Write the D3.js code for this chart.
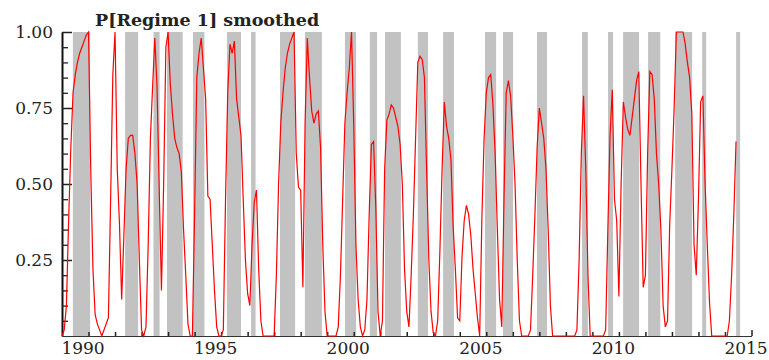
<!DOCTYPE html>
<html>
<head>
<meta charset="utf-8">
<script src="https://cdn.jsdelivr.net/npm/d3@7"></script>
<style>
  body { margin: 0; background: #fff; }
  svg text { font-family: "DejaVu Serif", serif; fill: #222; }
</style>
</head>
<body>
<svg id="chart" width="769" height="360"></svg>
<script>
// smoothed probability of regime 1, one value per month from Jan 1989
const startYear = 1989;
const probSmoothed = [
  0, 0.02, 0.1, 0.38, 0.62, 0.8, 0.86, 0.9, 0.93, 0.95, 0.97, 0.99,        // 1989
  1.0, 0.55, 0.22, 0.07, 0.04, 0.02, 0.0, 0.02, 0.04, 0.06, 0.45, 0.86,     // 1990
  1.0, 0.55, 0.37, 0.12, 0.33, 0.55, 0.65, 0.66, 0.66, 0.6, 0.5, 0.25,      // 1991
  0.02, 0.0, 0.03, 0.3, 0.65, 0.82, 0.98, 0.82, 0.48, 0.15, 0.5, 0.95,      // 1992
  1.0, 0.83, 0.73, 0.65, 0.62, 0.6, 0.54, 0.35, 0.2, 0.04, 0.0, 0.0,        // 1993
  0.4, 0.85, 0.93, 0.98, 0.88, 0.78, 0.46, 0.45, 0.3, 0.15, 0.03, 0.0,      // 1994
  0.0, 0.02, 0.45, 0.8, 0.96, 0.93, 0.97, 0.78, 0.72, 0.66, 0.45, 0.25,     // 1995
  0.14, 0.1, 0.3, 0.44, 0.48, 0.22, 0.05, 0.0, 0, 0, 0, 0,                  // 1996
  0, 0.2, 0.5, 0.7, 0.8, 0.88, 0.93, 0.96, 0.98, 1.0, 0.6, 0.49,            // 1997
  0.48, 0.16, 0.7, 0.98, 0.85, 0.74, 0.7, 0.73, 0.74, 0.62, 0.3, 0.08,      // 1998
  0, 0, 0, 0, 0, 0.03, 0.2, 0.45, 0.7, 0.8, 0.88, 1.0,                      // 1999
  0.7, 0.3, 0.12, 0.03, 0, 0.02, 0.12, 0.4, 0.63, 0.64, 0.42, 0.08,         // 2000
  0, 0.05, 0.55, 0.71, 0.73, 0.76, 0.75, 0.72, 0.69, 0.63, 0.5, 0.22,       // 2001
  0.08, 0.03, 0.2, 0.4, 0.65, 0.9, 0.92, 0.91, 0.85, 0.54, 0.25, 0.08,      // 2002
  0.01, 0, 0.05, 0.28, 0.55, 0.77, 0.69, 0.65, 0.58, 0.36, 0.22, 0.06,      // 2003
  0.05, 0.26, 0.38, 0.43, 0.4, 0.33, 0.22, 0.14, 0.06, 0, 0.39, 0.65,       // 2004
  0.8, 0.85, 0.86, 0.76, 0.6, 0.35, 0.12, 0.03, 0.45, 0.8, 0.84, 0.79,      // 2005
  0.66, 0.5, 0.25, 0.05, 0, 0, 0, 0, 0.02, 0.2, 0.4, 0.62,                  // 2006
  0.75, 0.7, 0.65, 0.55, 0.35, 0.1, 0, 0, 0, 0, 0, 0,                       // 2007
  0, 0, 0, 0, 0, 0.02, 0.25, 0.6, 0.79, 0.55, 0.2, 0,                       // 2008
  0, 0, 0, 0, 0, 0, 0.02, 0.35, 0.66, 0.81, 0.45, 0.38,                     // 2009
  0.13, 0.5, 0.77, 0.72, 0.68, 0.66, 0.72, 0.78, 0.84, 0.87, 0.5, 0.16,     // 2010
  0.2, 0.6, 0.87, 0.86, 0.78, 0.6, 0.5, 0.35, 0.1, 0.03, 0.05, 0.37,        // 2011
  0.55, 0.75, 1.0, 1.0, 1.0, 1.0, 0.96, 0.9, 0.85, 0.73, 0.3, 0.2,          // 2012
  0.45, 0.77, 0.79, 0.5, 0.3, 0.11, 0, 0, 0, 0, 0, 0,                       // 2013
  0, 0, 0.05, 0.2, 0.4, 0.64                                                // 2014
];

// shaded periods (decimal years)
const bandStart = [1989.41, 1991.38, 1992.45, 1992.96, 1993.94, 1995.22, 1996.13, 1997.22,
  1998.16, 1999.67, 2000.61, 2001.18, 2002.42, 2003.37, 2004.95, 2005.63, 2006.91,
  2008.61, 2009.59, 2010.16, 2011.10, 2012.12, 2013.14, 2014.42];
const bandEnd = [1990.06, 1991.87, 1992.68, 1993.55, 1994.37, 1995.75, 1996.30, 1997.79,
  1998.80, 2000.09, 2000.88, 2001.78, 2002.80, 2003.78, 2005.37, 2006.01, 2007.29,
  2008.83, 2009.78, 2010.76, 2011.56, 2012.76, 2013.29, 2014.57];

const xLabelYears = [1990, 1995, 2000, 2005, 2010, 2015];
const yLabelTicks = [0.25, 0.5, 0.75, 1.0];

const svg = d3.select('#chart');

const plotLeft = 62, plotRight = 751.5, plotTop = 32, plotBottom = 336;

const x = d3.scaleLinear().domain([1989, 2015]).range([plotLeft, plotRight]);
const y = d3.scaleLinear().domain([0, 1]).range([plotBottom, plotTop]);

// gray bands
svg.append('g')
  .selectAll('rect')
  .data(d3.zip(bandStart, bandEnd))
  .enter()
  .append('rect')
  .attr('x', d => x(d[0]))
  .attr('y', plotTop)
  .attr('width', d => x(d[1]) - x(d[0]))
  .attr('height', plotBottom - plotTop)
  .attr('fill', '#c2c2c2');

// x axis: small yearly ticks pointing up
const xTicks = svg.append('g')
  .attr('transform', `translate(0, ${plotBottom})`)
  .call(d3.axisTop(x)
    .tickValues(d3.range(1990, 2016))
    .tickSize(4)
    .tickSizeOuter(0)
    .tickFormat(''));
xTicks.select('.domain').attr('stroke', '#333').attr('stroke-width', 1.2);
xTicks.selectAll('.tick line').attr('stroke', '#222').attr('stroke-width', 1.5);
xTicks.selectAll('.tick').filter(d => d === 2015).select('line').attr('y2', -6);

// x labels
const xLabels = svg.append('g')
  .attr('transform', `translate(0, ${plotBottom})`)
  .call(d3.axisBottom(x)
    .tickValues(xLabelYears)
    .tickSize(0)
    .tickPadding(6)
    .tickFormat(d3.format('d')));
xLabels.select('.domain').remove();
xLabels.selectAll('text')
  .attr('font-size', 17)
  .attr('dx', -6)
  .style('font-family', '"DejaVu Serif", serif')
  .attr('fill', '#222');

// y axis ticks: minor every 0.05, major every 0.25, pointing right
const yMinor = svg.append('g')
  .attr('transform', `translate(${plotLeft}, 0)`)
  .call(d3.axisRight(y)
    .tickValues(d3.range(0.05, 1.0001, 0.05).filter(v => Math.abs(v * 4 - Math.round(v * 4)) > 1e-6))
    .tickSize(6)
    .tickSizeOuter(0)
    .tickFormat(''));
yMinor.select('.domain').attr('stroke', '#111').attr('stroke-width', 2);
yMinor.selectAll('.tick line').attr('stroke', '#222').attr('stroke-width', 1.3);

const yMajor = svg.append('g')
  .attr('transform', `translate(${plotLeft}, 0)`)
  .call(d3.axisRight(y)
    .tickValues(yLabelTicks)
    .tickSize(10)
    .tickSizeOuter(0)
    .tickFormat(''));
yMajor.select('.domain').remove();
yMajor.selectAll('.tick line').attr('stroke', '#222').attr('stroke-width', 1.5);

// y labels
const yLabels = svg.append('g')
  .attr('transform', `translate(${plotLeft}, 0)`)
  .call(d3.axisLeft(y)
    .tickValues(yLabelTicks)
    .tickSize(0)
    .tickPadding(9)
    .tickFormat(d3.format('.2f')));
yLabels.select('.domain').remove();
yLabels.selectAll('text')
  .attr('font-size', 17)
  .style('font-family', '"DejaVu Serif", serif')
  .attr('fill', '#222');

// red line
const line = d3.line()
  .x((d, i) => x(startYear + i / 12))
  .y(d => y(d));

svg.append('path')
  .datum(probSmoothed)
  .attr('d', line)
  .attr('fill', 'none')
  .attr('stroke', '#ff0000')
  .attr('stroke-width', 1.2);

// title
svg.append('text')
  .attr('x', 95)
  .attr('y', 26)
  .attr('font-size', 17.5)
  .attr('font-weight', 'bold')
  .text('P[Regime 1] smoothed');
</script>
</body>
</html>
